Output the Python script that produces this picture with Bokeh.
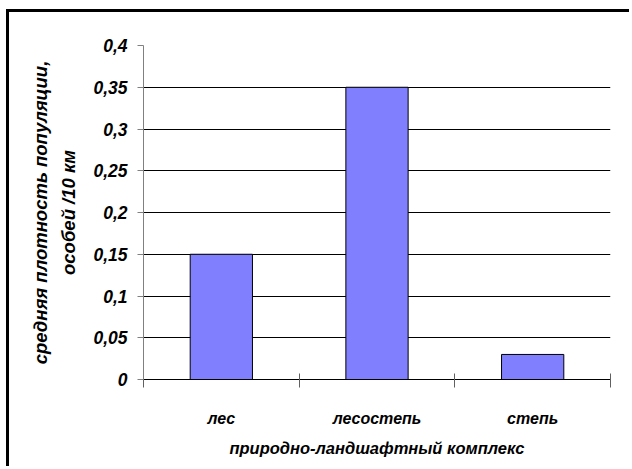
from bokeh.plotting import figure
from bokeh.models import FixedTicker, Range1d, ColumnDataSource, LinearAxis
from bokeh.embed import file_html
from bokeh.resources import INLINE

# Population density by landscape complex
categories = ["лес", "лесостепь", "степь"]
density = [0.15, 0.35, 0.03]

y_ticks = [0, 0.05, 0.1, 0.15, 0.2, 0.25, 0.3, 0.35, 0.4]
y_tick_labels = ["0", "0,05", "0,1", "0,15", "0,2", "0,25", "0,3", "0,35", "0,4"]

x_title = "природно-ландшафтный комплекс"
y_title_lines = ["средняя плотность популяции,", "особей /10 км"]

FONT = "Liberation Sans"

# category centres sit in the middle of unit-wide slots
centres = [i + 0.5 for i in range(len(categories))]
bounds = [float(i) for i in range(len(categories) + 1)]

source = ColumnDataSource(data=dict(x=centres, top=density))

p = figure(
    width=623, height=457,
    x_range=Range1d(0, len(categories)), y_range=Range1d(0, 0.4),
    output_backend="svg", toolbar_location=None,
    min_border_left=134, min_border_right=22,
    min_border_top=33, min_border_bottom=90,
)
p.styles = {
    "margin-left": "6px", "margin-top": "9px",
    "border-left": "3px solid black", "border-top": "3px solid black",
}
p.outline_line_color = None
p.background_fill_color = "white"
p.border_fill_color = "white"

p.vbar(x="x", top="top", width=0.4, source=source,
       fill_color="#8080FF", line_color="black", line_width=1)

# y axis (inner): ticks, tick labels and the second title line
yax = p.yaxis[0]
yax.ticker = FixedTicker(ticks=y_ticks)
yax.major_label_overrides = dict(zip(y_ticks, y_tick_labels))
yax.axis_line_color = "#808080"
yax.major_tick_line_color = "#808080"
yax.major_tick_out = 6
yax.major_tick_in = 0
yax.minor_tick_line_color = None
yax.major_label_standoff = 10
yax.major_label_text_font = FONT
yax.major_label_text_font_style = "bold italic"
yax.major_label_text_font_size = "17.5px"
yax.major_label_text_color = "black"
yax.axis_label = y_title_lines[1]
yax.axis_label_text_font = FONT
yax.axis_label_text_font_style = "bold italic"
yax.axis_label_text_font_size = "18.5px"
yax.axis_label_text_color = "black"
yax.axis_label_standoff = 11

# outer left axis carrying only the first title line
outer = LinearAxis(
    ticker=FixedTicker(ticks=[]),
    axis_label=y_title_lines[0],
    axis_line_color=None,
    major_tick_line_color=None,
    minor_tick_line_color=None,
    major_tick_out=0, major_tick_in=0,
    minor_tick_out=0, minor_tick_in=0,
    major_label_standoff=0,
    axis_label_standoff=5,
    axis_label_text_font=FONT,
    axis_label_text_font_style="bold italic",
    axis_label_text_font_size="18.5px",
    axis_label_text_color="black",
)
p.add_layout(outer, "left")

# x axis: labels at slot centres, tick marks at slot boundaries
p.xaxis.ticker = FixedTicker(ticks=centres, minor_ticks=bounds)
p.xaxis.major_label_overrides = dict(zip(centres, categories))
p.xaxis.axis_line_color = "black"
p.xaxis.major_tick_in = 0
p.xaxis.major_tick_out = 0
p.xaxis.minor_tick_in = 6
p.xaxis.minor_tick_out = 8
p.xaxis.minor_tick_line_color = "#606060"
p.xaxis.major_label_standoff = 22
p.xaxis.major_label_text_font = FONT
p.xaxis.major_label_text_font_style = "bold italic"
p.xaxis.major_label_text_font_size = "16px"
p.xaxis.major_label_text_color = "black"
p.xaxis.axis_label = x_title
p.xaxis.axis_label_text_font = FONT
p.xaxis.axis_label_text_font_style = "bold italic"
p.xaxis.axis_label_text_font_size = "16.5px"
p.xaxis.axis_label_text_color = "black"
p.xaxis.axis_label_standoff = 9

p.ygrid.grid_line_color = "black"
p.ygrid.grid_line_width = 1
p.xgrid.grid_line_color = None

open("out.html", "w").write(file_html(p, INLINE))
